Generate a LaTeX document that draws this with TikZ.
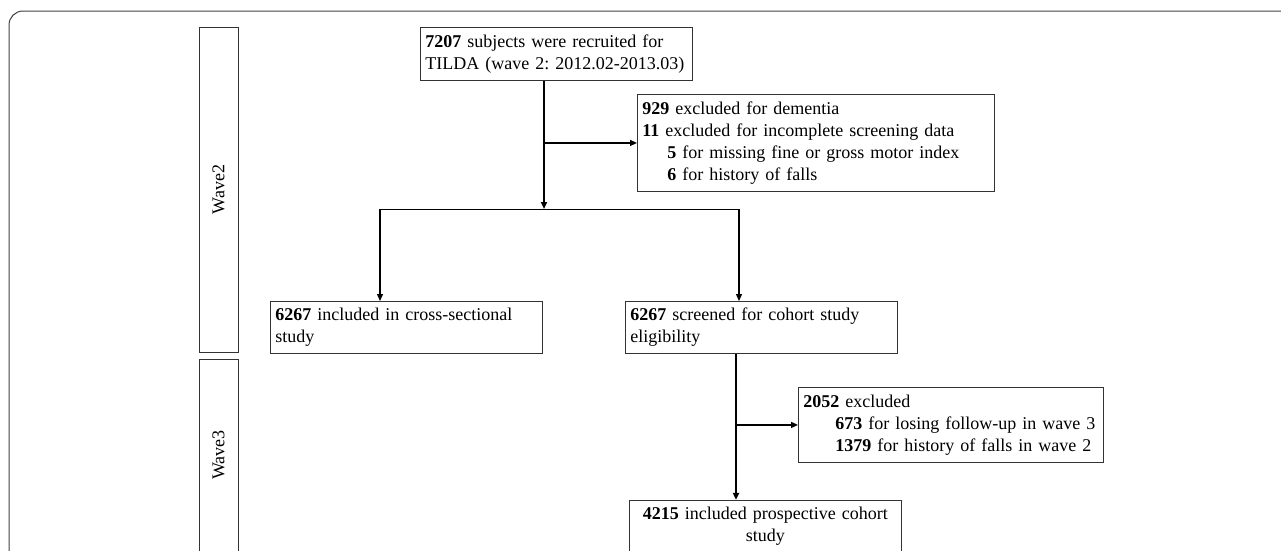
\documentclass[tikz,border=0pt]{standalone}
\usepackage{fontspec}
\setmainfont{Liberation Serif}
\usepackage{tikz}
\usetikzlibrary{arrows.meta,positioning}

\newcommand{\flowfont}{\fontsize{18}{22}\selectfont\frenchspacing}

\begin{document}
\begin{tikzpicture}[
    x=1pt, y=-1pt,
    box/.style={rectangle, draw=black!80, line width=0.9pt, font=\flowfont, align=left, inner xsep=5pt, inner ysep=3pt, text width=262pt},
    lane/.style={rectangle, draw=black!80, line width=0.9pt, font=\flowfont, rotate=90, minimum height=39pt},
    arrow/.style={->, >={Triangle[length=7pt,width=6pt]}, line width=1.3pt},
    trunk/.style={arrow, line width=1.8pt}
]
\useasboundingbox (0,0) rectangle (1281,550);
\clip (0,0) rectangle (1281,550);

% outer frame
\draw[rounded corners=14pt, line width=1pt, black!75] (1320,11) -- (9,11) -- (9,600);

% waves
\node[lane, minimum width=325pt] (wave2) at (218.5,189.5) {Wave2};
\node[lane, minimum width=192pt] (wave3) at (218.5,455) {Wave3};

% boxes
\node[box, anchor=north west, minimum height=53pt] (recruit) at (420,27) {\textbf{7207} subjects were recruited for\\TILDA (wave 2: 2012.02-2013.03)};
\node[box, anchor=north west, text width=347pt, minimum height=97pt] (excl1) at (637,94) {\textbf{929} excluded for dementia\\\textbf{11} excluded for incomplete screening data\\\hspace*{25pt}\textbf{5} for missing fine or gross motor index\\\hspace*{25pt}\textbf{6} for history of falls};
\node[box, anchor=north west, minimum height=52pt] (cross) at (270,301) {\textbf{6267} included in cross-sectional\\study};
\node[box, right=82pt of cross, minimum height=52pt] (screen) {\textbf{6267} screened for cohort study\\eligibility};
\node[box, anchor=north west, text width=295pt, minimum height=75pt] (excl2) at (798,387) {\textbf{2052} excluded\\\hspace*{32pt}\textbf{673} for losing follow-up in wave 3\\\hspace*{32pt}\textbf{1379} for history of falls in wave 2};
\node[box, below=146pt of screen, xshift=4pt, align=center, minimum height=52pt] (cohort) {\textbf{4215} included prospective cohort\\study};

% connectors
\coordinate (fork) at (544,209);
\coordinate (splitL) at (380,209);
\coordinate (splitR) at (739,209);
\coordinate (tap) at (736,424);

\draw[trunk] (recruit.south -| fork) -- (fork);
\draw[arrow] (fork |- excl1.west) -- (excl1.west);
\draw[line width=0.8pt] (splitL) -- (splitR);
\draw[arrow] (splitL) -- (splitL |- cross.north);
\draw[arrow] (splitR) -- (splitR |- screen.north);
\draw[trunk] (screen.south -| tap) -- (tap |- cohort.north);
\draw[arrow] (tap |- excl2.west) -- (excl2.west);

\end{tikzpicture}
\end{document}
